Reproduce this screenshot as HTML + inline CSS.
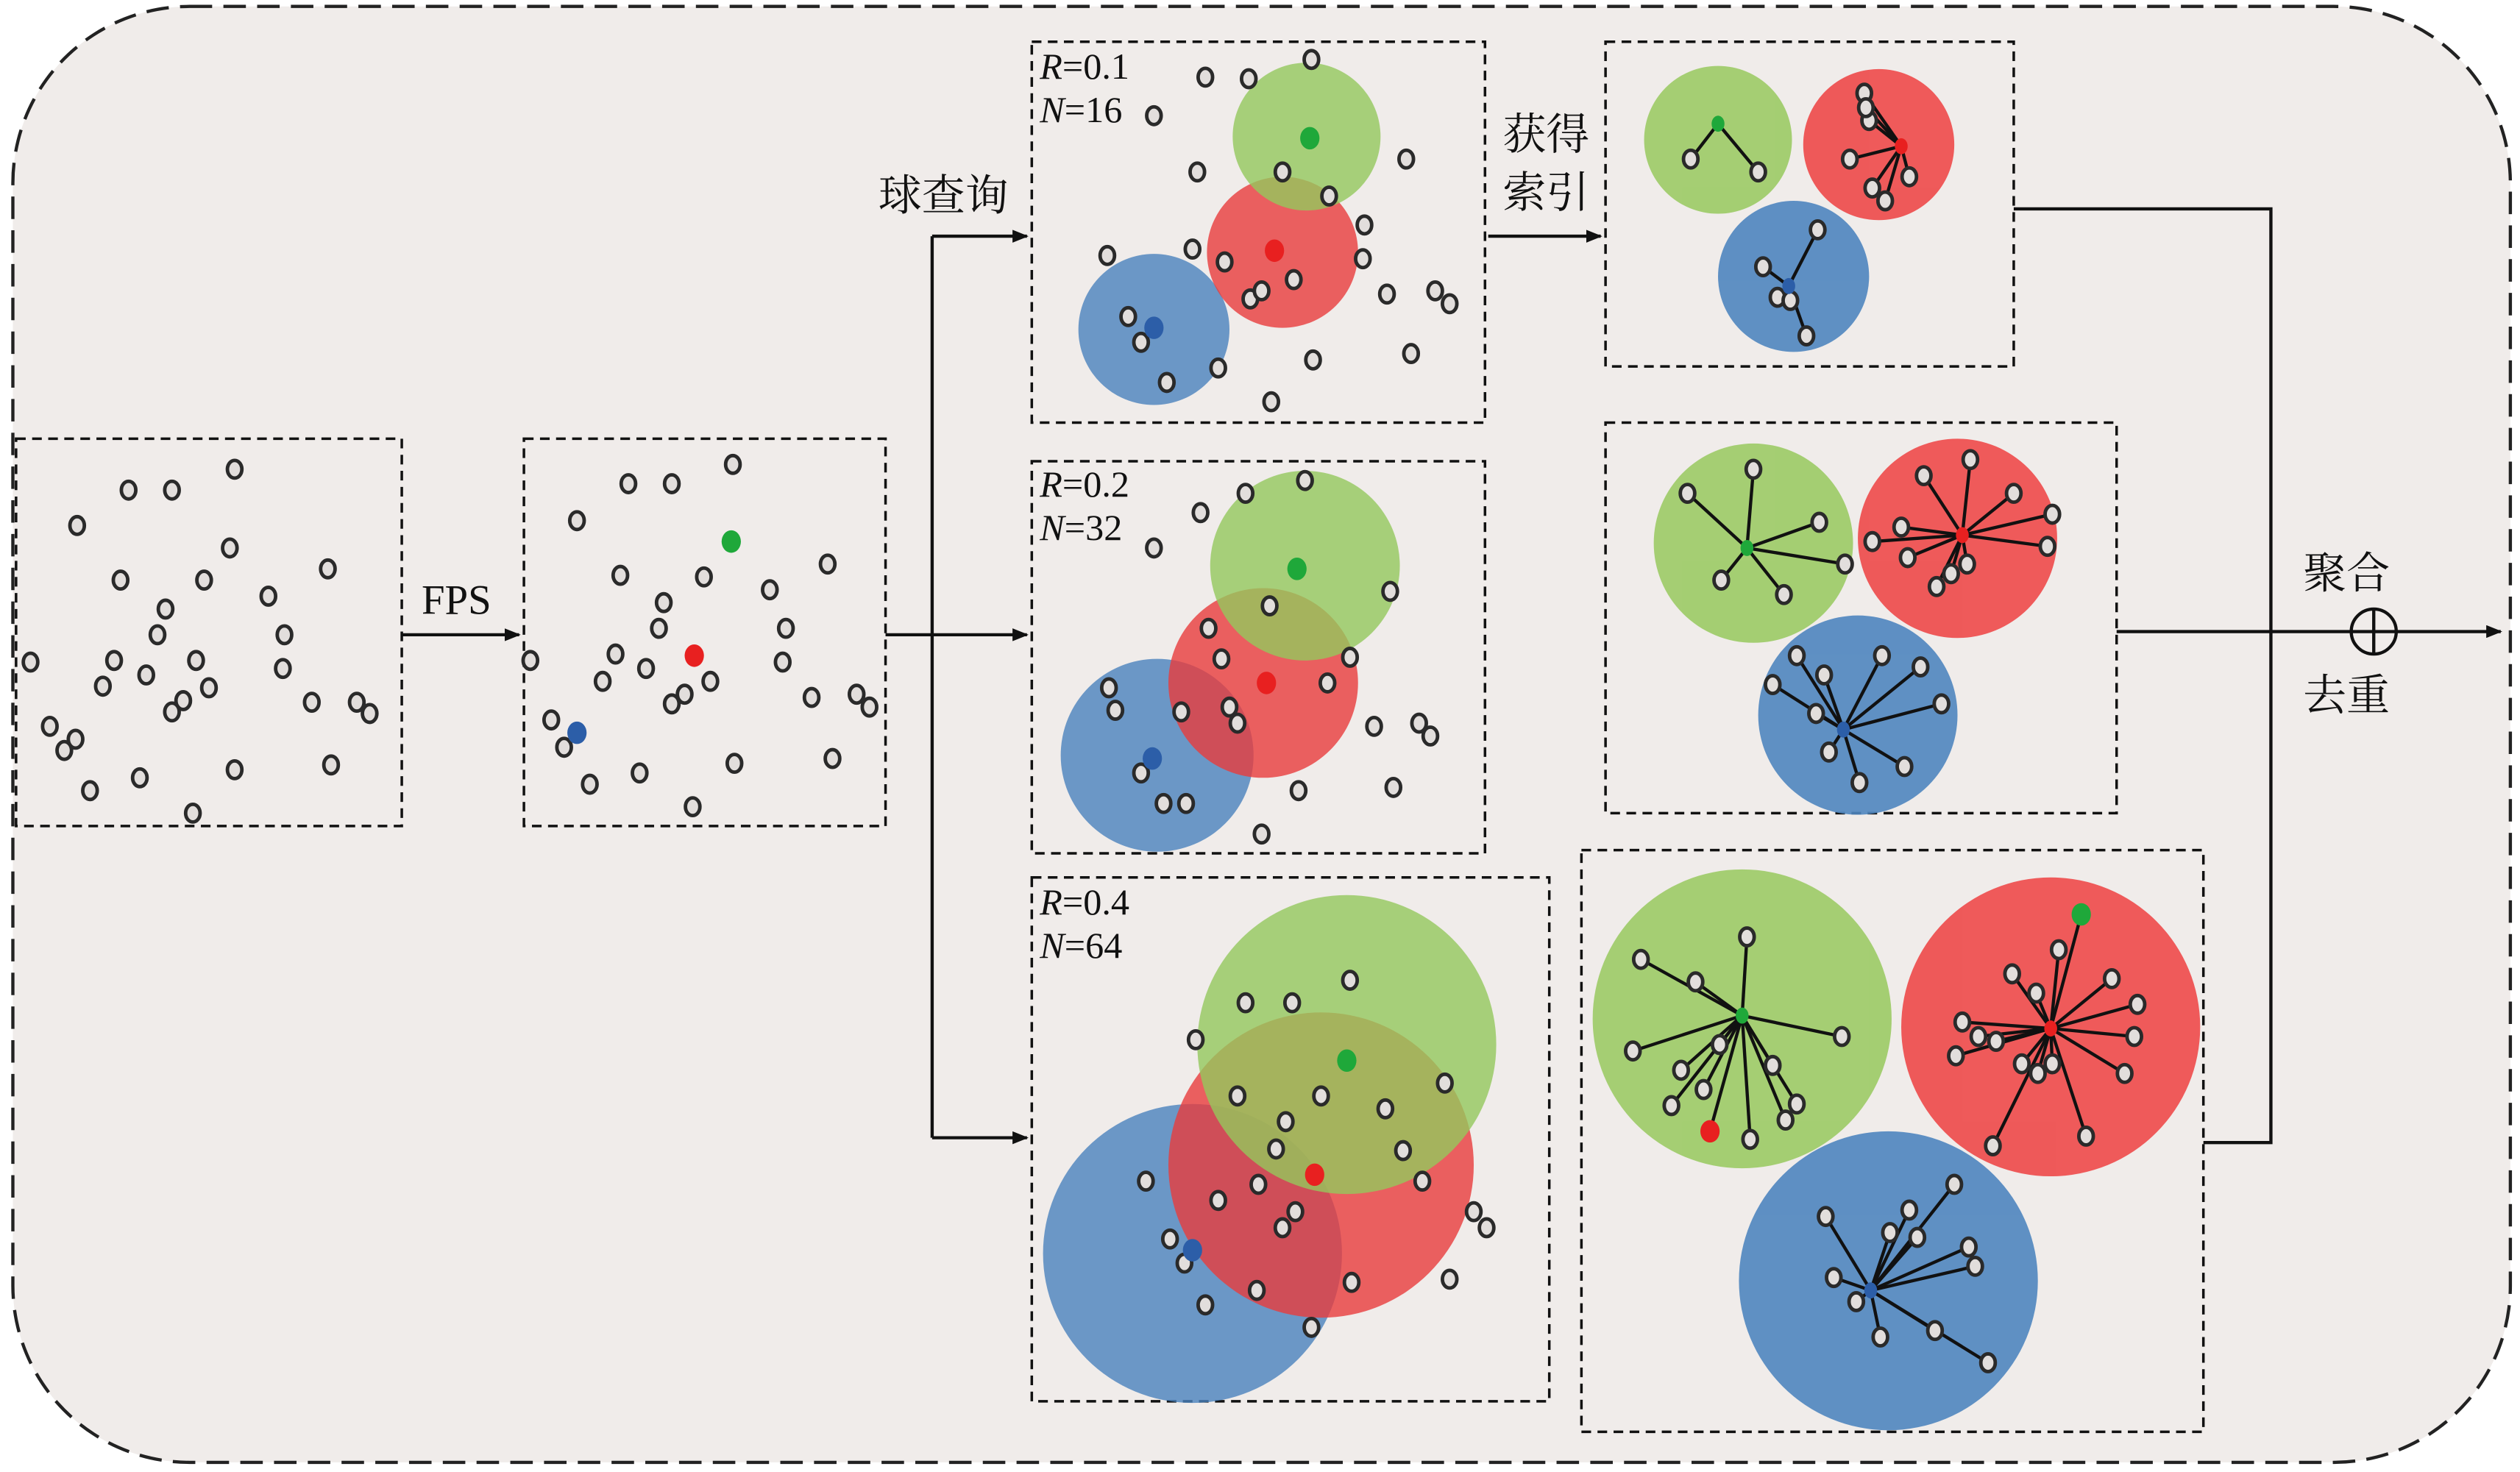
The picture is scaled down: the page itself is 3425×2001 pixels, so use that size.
<!DOCTYPE html>
<html><head><meta charset="utf-8">
<style>
html,body{margin:0;padding:0;background:#fff;}
svg{display:block;}
.t{font-family:"Liberation Serif","Noto Serif CJK SC",serif;fill:#111;}
</style></head><body>
<svg id="s" width="3425" height="2001" viewBox="0 0 1568 916" preserveAspectRatio="none" xmlns="http://www.w3.org/2000/svg">
<defs>
<marker id="ar" markerWidth="10" markerHeight="8" refX="9" refY="4" orient="auto" markerUnits="userSpaceOnUse"><path d="M0,0 L10,4 L0,8 Z" fill="#111"/></marker>
</defs>
<rect x="8" y="4" width="1554" height="906" rx="110" fill="#f0ecea" stroke="#222" stroke-width="2" stroke-dasharray="14,7"/>
<g fill="none" stroke="#111" stroke-width="1.6" stroke-dasharray="6,4">
<rect x="10" y="273" width="240" height="241"/>
<rect x="326" y="273" width="225" height="241"/>
<rect x="642" y="26" width="282" height="237"/>
<rect x="642" y="287" width="282" height="244"/>
<rect x="642" y="546" width="322" height="326"/>
<rect x="999" y="26" width="254" height="202"/>
<rect x="999" y="263" width="318" height="243"/>
<rect x="984" y="529" width="387" height="362"/>
</g>
<g fill-opacity="0.8">
<circle cx="718" cy="205" r="47" fill="#4a82bd"/>
<circle cx="798" cy="157" r="47" fill="#e83c3c"/>
<circle cx="813" cy="85" r="46" fill="#94c85c"/>
<circle cx="720" cy="470" r="60" fill="#4a82bd"/>
<circle cx="786" cy="425" r="59" fill="#e83c3c"/>
<circle cx="812" cy="352" r="59" fill="#94c85c"/>
<circle cx="742" cy="780" r="93" fill="#4a82bd"/>
<circle cx="822" cy="725" r="95" fill="#e83c3c"/>
<circle cx="838" cy="650" r="93" fill="#94c85c"/>
</g>
<g opacity="0.9">
<circle cx="1069" cy="87" r="46" fill="#9ccb66"/>
<circle cx="1169" cy="90" r="47" fill="#ee4a4a"/>
<circle cx="1116" cy="172" r="47" fill="#4f86bf"/>
<circle cx="1091" cy="338" r="62" fill="#9ccb66"/>
<circle cx="1218" cy="335" r="62" fill="#ee4a4a"/>
<circle cx="1156" cy="445" r="62" fill="#4f86bf"/>
<circle cx="1084" cy="634" r="93" fill="#9ccb66"/>
<circle cx="1276" cy="639" r="93" fill="#ee4a4a"/>
<circle cx="1175" cy="797" r="93" fill="#4f86bf"/>
</g>
<g id="spk" stroke="#111" stroke-width="2"></g>
<g id="dots" fill="#e2dedc" stroke="#2a2a2a" stroke-width="2.2"></g>
<g id="hubs"></g>
<g stroke="#111" stroke-width="2" fill="none">
<line x1="250" y1="395" x2="323" y2="395" marker-end="url(#ar)"/>
<line x1="551" y1="395" x2="580" y2="395"/>
<line x1="580" y1="147" x2="580" y2="708"/>
<line x1="580" y1="147" x2="639" y2="147" marker-end="url(#ar)"/>
<line x1="580" y1="395" x2="639" y2="395" marker-end="url(#ar)"/>
<line x1="580" y1="708" x2="639" y2="708" marker-end="url(#ar)"/>
<line x1="926" y1="147" x2="996" y2="147" marker-end="url(#ar)"/>
<polyline points="1253,130 1413,130 1413,711 1371,711"/>
<line x1="1317" y1="393" x2="1556" y2="393" marker-end="url(#ar)"/>
<circle cx="1477" cy="393" r="14"/>
<line x1="1477" y1="379" x2="1477" y2="407"/>
</g>
<g class="t">
<text x="284" y="382" font-size="26" text-anchor="middle">FPS</text>
<text x="587" y="131" font-size="27" text-anchor="middle">球查询</text>
<text x="962" y="93" font-size="27" text-anchor="middle">获得</text>
<text x="962" y="129" font-size="27" text-anchor="middle">索引</text>
<text x="1460" y="366" font-size="27" text-anchor="middle">聚合</text>
<text x="1460" y="442" font-size="27" text-anchor="middle">去重</text>
<text x="647" y="49" font-size="23"><tspan font-style="italic">R</tspan>=0.1</text>
<text x="647" y="76" font-size="23"><tspan font-style="italic">N</tspan>=16</text>
<text x="647" y="309" font-size="23"><tspan font-style="italic">R</tspan>=0.2</text>
<text x="647" y="336" font-size="23"><tspan font-style="italic">N</tspan>=32</text>
<text x="647" y="569" font-size="23"><tspan font-style="italic">R</tspan>=0.4</text>
<text x="647" y="596" font-size="23"><tspan font-style="italic">N</tspan>=64</text>
</g>
<script>
(function(){
var NS="http://www.w3.org/2000/svg";
var D=document.getElementById("dots"),S=document.getElementById("spk"),H=document.getElementById("hubs");
function dot(x,y){var e=document.createElementNS(NS,"ellipse");e.setAttribute("cx",x);e.setAttribute("cy",y);e.setAttribute("rx",4.5);e.setAttribute("ry",5.5);D.appendChild(e);}
function hub(x,y,c,r){var e=document.createElementNS(NS,"ellipse");e.setAttribute("cx",x);e.setAttribute("cy",y);e.setAttribute("rx",r||6);e.setAttribute("ry",(r||6)+1);e.setAttribute("fill",c);H.appendChild(e);}
function line(a,b,c,d){var e=document.createElementNS(NS,"line");e.setAttribute("x1",a);e.setAttribute("y1",b);e.setAttribute("x2",c);e.setAttribute("y2",d);S.appendChild(e);}
var G="#1fa83a",R="#e82020",B="#2c5ea8";
var P=[
[146,292],[80,305],[107,305],[48,327],[143,341],[75,361],[127,361],[167,371],[204,354],[103,379],[98,395],[177,395],[19,412],[71,411],[122,411],[176,416],[64,427],[91,420],[130,428],[114,436],[107,443],[194,437],[222,437],[230,444],[31,452],[47,460],[40,467],[87,484],[146,479],[206,476],[56,492],[120,506],
[456,289],[391,301],[418,301],[359,324],[438,359],[386,358],[479,367],[515,351],[413,375],[410,391],[489,391],[330,411],[383,407],[402,416],[487,412],[375,424],[426,432],[442,424],[418,438],[505,434],[533,432],[541,440],[343,448],[351,465],[398,481],[457,475],[518,472],[367,488],[431,502],
[816,37],[750,48],[777,49],[718,72],[875,99],[745,107],[798,107],[827,122],[849,140],[742,155],[689,159],[762,163],[848,161],[805,174],[778,186],[785,181],[863,183],[893,181],[902,189],[702,197],[710,213],[817,224],[878,220],[758,229],[726,238],[791,250],
[812,299],[747,319],[775,307],[718,341],[865,368],[790,377],[752,391],[760,410],[840,409],[826,425],[690,428],[735,443],[765,440],[770,450],[855,452],[883,450],[890,458],[710,481],[738,500],[724,500],[808,492],[867,490],[785,519],[694,442],
[840,610],[775,624],[804,624],[744,647],[899,674],[770,682],[822,682],[800,698],[862,690],[794,715],[873,716],[783,737],[758,747],[713,735],[885,735],[806,754],[798,764],[728,771],[737,786],[917,754],[925,764],[782,803],[750,812],[841,798],[902,796],[816,826]];
var HB=[
[1069,77,G,[[1052,99],[1094,107]]],
[1183,91,R,[[1160,58],[1163,75],[1151,99],[1165,117],[1173,125],[1188,110],[1161,67]]],
[1113,178,B,[[1131,143],[1097,166],[1106,185],[1124,209],[1114,187]]],
[1087,341,G,[[1050,307],[1091,292],[1148,351],[1071,361],[1110,370],[1132,325]]],
[1221,333,R,[[1226,286],[1197,296],[1253,307],[1277,320],[1274,340],[1165,337],[1187,347],[1205,365],[1214,357],[1224,351],[1183,328]]],
[1147,454,B,[[1118,408],[1135,420],[1171,408],[1195,415],[1208,438],[1130,444],[1185,477],[1157,487],[1138,468],[1103,426]]],
[1084,632,G,[[1087,583],[1021,597],[1055,611],[1146,645],[1016,654],[1046,666],[1060,678],[1040,688],[1070,650],[1103,663],[1118,687],[1111,697],[1089,709]]],
[1276,640,R,[[1252,606],[1281,591],[1267,618],[1314,609],[1330,625],[1221,636],[1328,645],[1217,657],[1242,648],[1258,662],[1277,662],[1268,668],[1322,668],[1240,713],[1298,707],[1231,645]]],
[1164,803,B,[[1136,757],[1176,767],[1188,753],[1216,737],[1225,776],[1229,788],[1141,795],[1155,810],[1204,828],[1237,848],[1170,832],[1193,770]]]];
HB.forEach(function(h){h[3].forEach(function(p){line(h[0],h[1],p[0],p[1]);dot(p[0],p[1]);});});
line(1084,632,1064,704);line(1276,640,1295,569);
P.forEach(function(p){dot(p[0],p[1]);});
HB.forEach(function(h){hub(h[0],h[1],h[2],4);});
hub(1064,704,R,6);hub(1295,569,G,6);
hub(455,337,G);hub(432,408,R);hub(359,456,B);
hub(815,86,G);hub(793,156,R);hub(718,204,B);
hub(807,354,G);hub(788,425,R);hub(717,472,B);
hub(838,660,G);hub(818,731,R);hub(742,778,B);
})();
</script>
</svg>
</body></html>
